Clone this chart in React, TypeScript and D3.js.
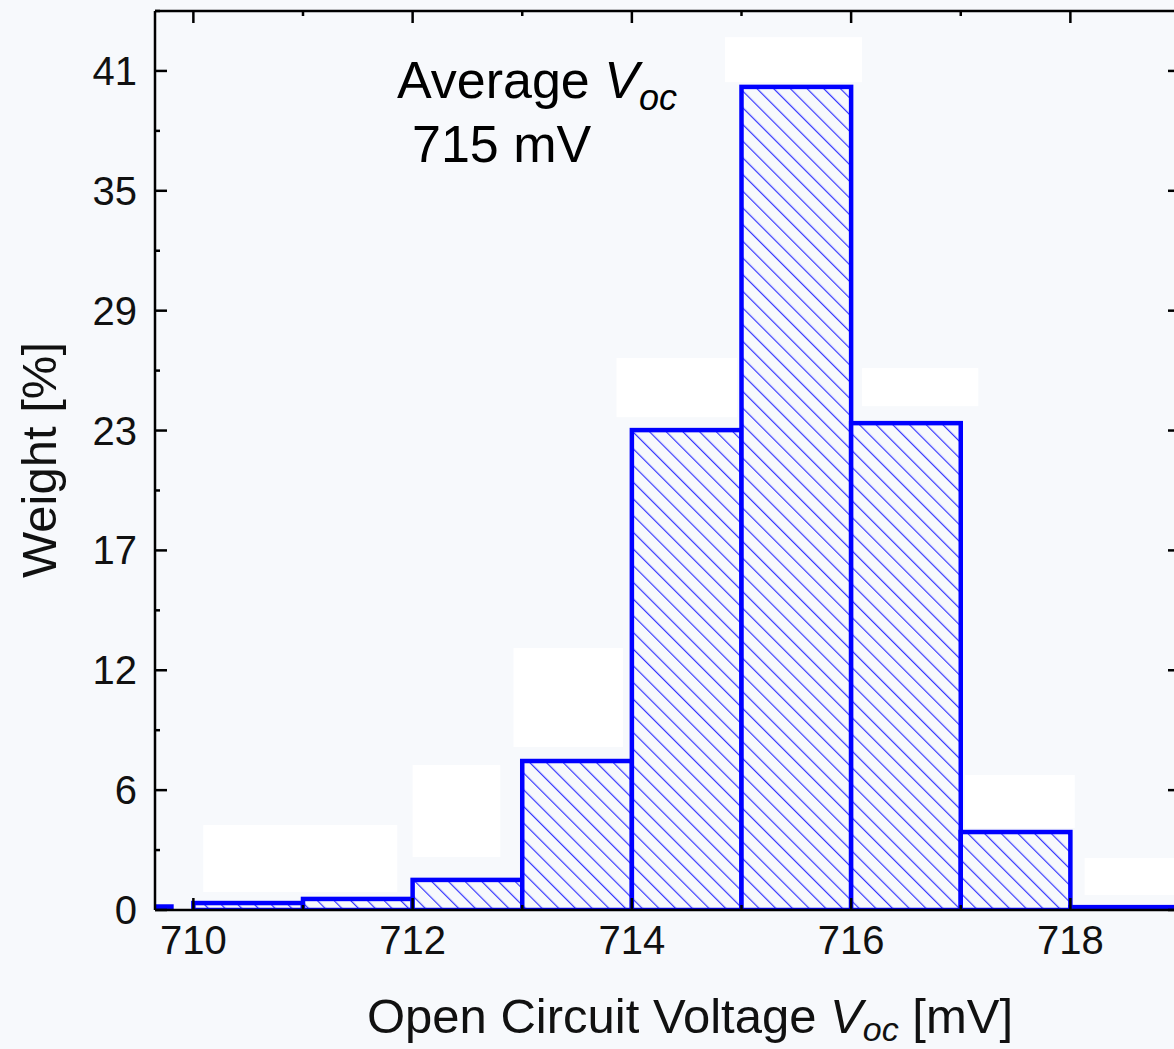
import React from "react";
import * as d3 from "d3";

// ---- data ----
const binStart = [709.0, 710, 711, 712, 713, 714, 715, 716, 717, 718];
const binEnd = [709.8, 711, 712, 713, 714, 715, 716, 717, 718, 719];
const weights = [0.17, 0.34, 0.54, 1.47, 7.28, 23.45, 40.22, 23.79, 3.81, 0.14];

const xTickValues = [710, 712, 714, 716, 718];
const xMinorValues = [711, 713, 715, 717];
const yTickValues = [0, 1, 2, 3, 4, 5, 6, 7].map((i) => (i * 41) / 7);
const yTickLabels = ["0", "6", "12", "17", "23", "29", "35", "41"];
const yMinorValues = [0, 1, 2, 3, 4, 5, 6, 7].map((i) => ((i + 0.5) * 41) / 7);

// masked (blank) label boxes, in data units [x0, x1, y0, y1]
const maskX0 = [714.85, 713.86, 716.1, 712.92, 712.0, 710.09, 717.04, 718.13];
const maskX1 = [716.1, 714.96, 717.16, 713.92, 712.8, 711.86, 718.04, 719.2];
const maskY0 = [40.45, 24.08, 24.62, 7.96, 2.59, 0.88, 4.0, 0.73];
const maskY1 = [42.65, 26.97, 26.48, 12.8, 7.08, 4.15, 6.6, 2.54];

const W = 1174;
const H = 1049;
const M = { left: 155, right: 1180, top: 11, bottom: 910 };

const FONT = "'Liberation Sans', Arial, Helvetica, sans-serif";
const BG = "#f7f9fc";

export default function App() {
  const x = d3.scaleLinear().domain([709.65, 719.0]).range([M.left, M.right]);
  const y = d3
    .scaleLinear()
    .domain([0, (41 * 7.5) / 7])
    .range([M.bottom, M.top]);

  const bins = binStart.map((s, i) => ({ x0: s, x1: binEnd[i], v: weights[i] }));
  const masks = maskX0.map((v, i) => ({ x0: v, x1: maskX1[i], y0: maskY0[i], y1: maskY1[i] }));

  const major = 12;
  const minor = 5;
  const axisW = 2.5;
  const hs = 11.8;

  return (
    <svg
      width={W}
      height={H}
      style={{ position: "absolute", left: 0, top: 0, background: BG }}
      fontFamily={FONT}
    >
      <defs>
        <pattern
          id="hatch"
          patternUnits="userSpaceOnUse"
          width={hs}
          height={hs}
          patternTransform="rotate(-45)"
        >
          <rect width={hs} height={hs} fill={BG} />
          <line x1={0.6} y1={0} x2={0.6} y2={hs} stroke="#3535ff" strokeWidth={1.2} />
        </pattern>
        <clipPath id="plotclip">
          <rect x={M.left} y={M.top} width={M.right - M.left} height={M.bottom - M.top} />
        </clipPath>
      </defs>
      <rect x={0} y={0} width={W} height={H} fill={BG} />

      {/* masks */}
      {masks.map((m, i) => (
        <rect
          key={"m" + i}
          x={x(m.x0)}
          y={y(m.y1)}
          width={x(m.x1) - x(m.x0)}
          height={y(m.y0) - y(m.y1)}
          fill="#ffffff"
        />
      ))}

      {/* bars */}
      <g clipPath="url(#plotclip)">
        {bins.map((b, i) => (
          <rect
            key={"b" + i}
            x={x(b.x0)}
            y={y(b.v)}
            width={x(b.x1) - x(b.x0)}
            height={y(0) - y(b.v)}
            fill="url(#hatch)"
            stroke="#0000ff"
            strokeWidth={4.5}
          />
        ))}
      </g>

      {/* axes frame */}
      <g stroke="#000" strokeWidth={axisW} fill="none">
        <line x1={M.left} x2={M.right} y1={M.bottom} y2={M.bottom} />
        <line x1={M.left} x2={M.right} y1={M.top} y2={M.top} />
        <line x1={M.left} x2={M.left} y1={M.top} y2={M.bottom} />
        <line x1={M.right} x2={M.right} y1={M.top} y2={M.bottom} />
        {xTickValues.map((t) => (
          <g key={"xt" + t}>
            <line x1={x(t)} x2={x(t)} y1={M.bottom} y2={M.bottom - major} />
            <line x1={x(t)} x2={x(t)} y1={M.top} y2={M.top + major} />
          </g>
        ))}
        {xMinorValues.map((t) => (
          <g key={"xm" + t}>
            <line x1={x(t)} x2={x(t)} y1={M.bottom} y2={M.bottom - minor} />
            <line x1={x(t)} x2={x(t)} y1={M.top} y2={M.top + minor} />
          </g>
        ))}
        {yTickValues.map((t, i) => (
          <g key={"yt" + i}>
            <line x1={M.left} x2={M.left + major} y1={y(t)} y2={y(t)} />
            <line x1={M.right} x2={M.right - major} y1={y(t)} y2={y(t)} />
          </g>
        ))}
        {yMinorValues.map((t, i) => (
          <g key={"ym" + i}>
            <line x1={M.left} x2={M.left + minor} y1={y(t)} y2={y(t)} />
            <line x1={M.right} x2={M.right - minor} y1={y(t)} y2={y(t)} />
          </g>
        ))}
      </g>

      {/* tick labels */}
      {xTickValues.map((t) => (
        <text key={"xl" + t} x={x(t)} y={954} textAnchor="middle" fontSize={40} fill="#111">
          {t}
        </text>
      ))}
      {yTickValues.map((t, i) => (
        <text
          key={"yl" + i}
          x={137}
          y={y(t) + 14}
          textAnchor="end"
          fontSize={40}
          fill="#111"
        >
          {yTickLabels[i]}
        </text>
      ))}

      {/* axis titles */}
      <text x={690} y={1033} textAnchor="middle" fontSize={49} fill="#111">
        Open Circuit Voltage{" "}
        <tspan fontStyle="italic">V</tspan>
        <tspan fontStyle="italic" fontSize={34} dy={8}>
          oc
        </tspan>
        <tspan dy={-8}> [mV]</tspan>
      </text>
      <text
        transform="translate(56,460) rotate(-90)"
        textAnchor="middle"
        fontSize={49}
        fill="#111"
      >
        Weight [%]
      </text>

      {/* annotation */}
      <text x={397} y={98} fontSize={52} fill="#000">
        Average <tspan fontStyle="italic">V</tspan>
        <tspan fontStyle="italic" fontSize={36} dy={12}>
          oc
        </tspan>
      </text>
      <text x={412} y={162} fontSize={52} fill="#000">
        715 mV
      </text>
    </svg>
  );
}
